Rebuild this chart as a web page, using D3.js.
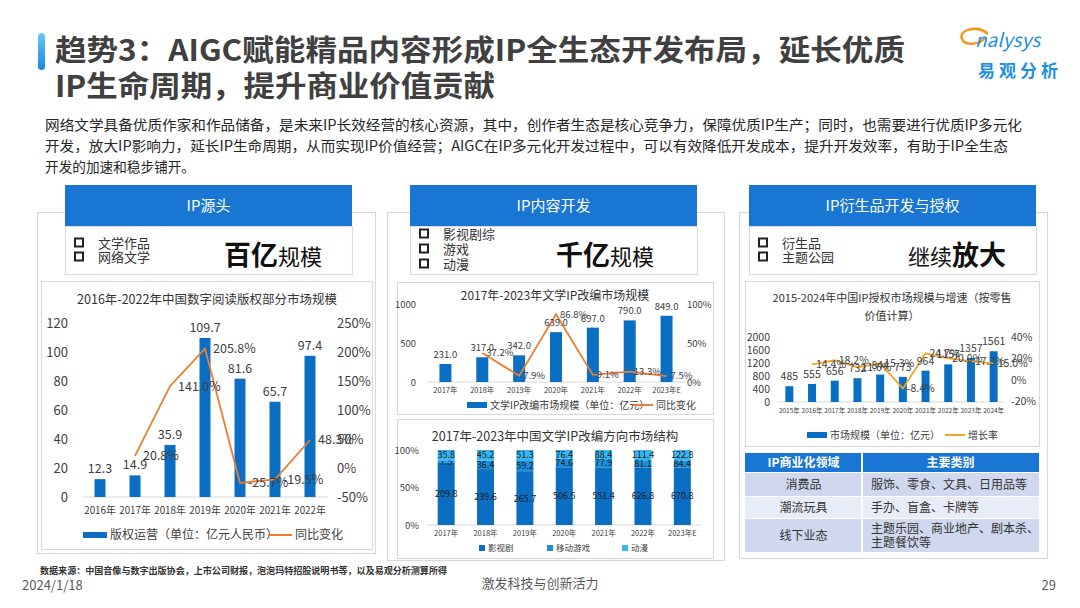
<!DOCTYPE html>
<html>
<head>
<meta charset="utf-8">
<script src="https://cdn.jsdelivr.net/npm/d3@7"></script>
<style>
  body { margin: 0; background: #fff; }
  svg { display: block; font-family: "Noto Sans CJK SC", "Noto Sans", sans-serif; }
</style>
</head>
<body>
<div id="chart"></div>
<script>
// ---- data ----
var readYears = ["2016年", "2017年", "2018年", "2019年", "2020年", "2021年", "2022年"];
var readValues = [12.3, 14.9, 35.9, 109.7, 81.6, 65.7, 97.4];
var readGrowth = [null, 20.8, 141.0, 205.8, -25.7, -19.5, 48.3];
var readLeftTicks = [0, 20, 40, 60, 80, 100, 120];
var readRightTicks = [-50, 0, 50, 100, 150, 200, 250];

var adaptYears = ["2017年", "2018年", "2019年", "2020年", "2021年", "2022年", "2023年E"];
var adaptValues = [231.0, 317.0, 342.0, 639.0, 697.0, 790.0, 849.0];
var adaptGrowth = [null, 37.2, 7.9, 86.8, 9.1, 13.3, 7.5];
var adaptLeftTicks = [0, 500, 1000];
var adaptRightTicks = [0, 50, 100];

var structYears = ["2017年", "2018年", "2019年", "2020年", "2021年", "2022年", "2023年E"];
var structFilm = [209.8, 239.6, 265.7, 506.5, 551.4, 626.8, 670.8];
var structGame = [7.5, 36.4, 59.2, 74.6, 77.9, 81.1, 84.4];
var structAnime = [35.8, 45.2, 51.3, 76.4, 88.4, 111.4, 122.8];
var structKeys = ["影视剧", "移动游戏", "动漫"];
var structTicks = [0, 0.5, 1];

var licYears = ["2015年", "2016年", "2017年", "2018年", "2019年", "2020年", "2021年", "2022年", "2023年", "2024年"];
var licValues = [485, 555, 656, 732, 844, 773, 964, 1157, 1357, 1561];
var licGrowth = [null, 14.4, 18.2, 11.6, 15.3, -8.4, 24.7, 20.0, 17.3, 15.0];
var licLeftTicks = [0, 400, 800, 1200, 1600, 2000];
var licRightTicks = [-20, 0, 20, 40];

var tableHead = ["IP商业化领域", "主要类别"];
var tableRows = [
  ["消费品", ["服饰、零食、文具、日用品等"]],
  ["潮流玩具", ["手办、盲盒、卡牌等"]],
  ["线下业态", ["主题乐园、商业地产、剧本杀、", "主题餐饮等"]]
];

var W = 1080, H = 608;
var BLUE = "#0a6fc2", ORANGE = "#ed7d31", TXT = "#404040";

var svg = d3.select("#chart").append("svg").attr("width", W).attr("height", H);

// ---- title ----
var grad = svg.append("defs").append("linearGradient").attr("id", "acc")
  .attr("x1", 0).attr("y1", 0).attr("x2", 0).attr("y2", 1);
grad.append("stop").attr("offset", 0).attr("stop-color", "#6cc8f2");
grad.append("stop").attr("offset", 1).attr("stop-color", "#1688dc");
svg.append("rect").attr("x", 38).attr("y", 33).attr("width", 7).attr("height", 37).attr("rx", 3.5).attr("fill", "url(#acc)");

svg.append("text").attr("x", 55).attr("y", 61).attr("font-size", 29).attr("font-weight", "bold").attr("fill", "#404040")
  .attr("textLength", 850).attr("lengthAdjust", "spacingAndGlyphs")
  .text("趋势3：AIGC赋能精品内容形成IP全生态开发布局，延长优质");
svg.append("text").attr("x", 55).attr("y", 97).attr("font-size", 29).attr("font-weight", "bold").attr("fill", "#404040")
  .attr("textLength", 440).attr("lengthAdjust", "spacingAndGlyphs")
  .text("IP生命周期，提升商业价值贡献");

// logo
svg.append("path").attr("d", "M988,34 C978,25 958,29 962,39 C965,46 979,45 985,38")
  .attr("fill", "none").attr("stroke", "#f39a1c").attr("stroke-width", 2.5);
svg.append("text").attr("x", 975).attr("y", 47).attr("font-size", 19).attr("font-style", "italic").attr("fill", "#1e90e0")
  .text("nalysys");
svg.append("text").attr("x", 978).attr("y", 77).attr("font-size", 17).attr("font-weight", "bold").attr("fill", "#1e90e0")
  .attr("textLength", 80).text("易观分析");

// ---- body text ----
var body = [
  ["网络文学具备优质作家和作品储备，是未来IP长效经营的核心资源，其中，创作者生态是核心竞争力，保障优质IP生产；同时，也需要进行优质IP多元化", 977],
  ["开发，放大IP影响力，延长IP生命周期，从而实现IP价值经营；AIGC在IP多元化开发过程中，可以有效降低开发成本，提升开发效率，有助于IP全生态", 963],
  ["开发的加速和稳步铺开。", 150]
];
body.forEach(function (b, i) {
  svg.append("text").attr("x", 45).attr("y", 130 + i * 21).attr("font-size", 14).attr("fill", "#262626")
    .attr("textLength", b[1]).attr("lengthAdjust", "spacingAndGlyphs").text(b[0]);
});

// ---- panels ----
function box(x, y, w, h, stroke) {
  svg.append("rect").attr("x", x + 0.5).attr("y", y + 0.5).attr("width", w).attr("height", h)
    .attr("fill", "#fff").attr("stroke", stroke || "#d9d9d9").attr("stroke-width", 1.2);
}
box(37, 212, 338, 341);
box(387, 212, 337, 348);
box(739, 212, 308, 346);

function header(x, label, bullets, bulletY, big) {
  box(x, 226, 287, 48, "#dcdcdc");
  svg.append("rect").attr("x", x).attr("y", 185).attr("width", 287).attr("height", 41).attr("fill", "#1976d2");
  svg.append("text").attr("x", x + 143.5).attr("y", 211).attr("text-anchor", "middle").attr("font-size", 15)
    .attr("fill", "#fff").text(label);
  bullets.forEach(function (b, i) {
    var yy = bulletY[i];
    svg.append("rect").attr("x", x + 10).attr("y", yy - 4.5).attr("width", 8).attr("height", 8)
      .attr("fill", "none").attr("stroke", "#222").attr("stroke-width", 2);
    svg.append("text").attr("x", x + 33).attr("y", yy + 4.5).attr("font-size", 13).attr("fill", "#333").text(b);
  });
  var t = svg.append("text").attr("x", big.x).attr("y", 265).attr("fill", "#111");
  big.parts.forEach(function (p) {
    t.append("tspan").attr("font-size", p[1] ? 27 : 22).attr("font-weight", p[1] ? "bold" : "normal").text(p[0]);
  });
}
header(65, "IP源头", ["文学作品", "网络文学"], [243, 257], { x: 224, parts: [["百亿", true], ["规模", false]] });
header(410, "IP内容开发", ["影视剧综", "游戏", "动漫"], [234, 249, 264], { x: 556, parts: [["千亿", true], ["规模", false]] });
header(749, "IP衍生品开发与授权", ["衍生品", "主题公园"], [243, 257], { x: 908, parts: [["继续", false], ["放大", true]] });

box(41, 281, 331, 268);
box(397, 282, 316, 132);
box(397, 419, 316, 139);
box(745, 281, 294, 165);

// ---- combo chart helper ----
function combo(o) {
  var g = svg.append("g");
  var x = d3.scaleBand().domain(o.cats).range(o.xr);
  var yl = d3.scaleLinear().domain(o.ld).range(o.yr);
  var yp = d3.scaleLinear().domain(o.pd).range(o.pr || o.yr);
  var cx = function (i) { return x(o.cats[i]) + x.bandwidth() / 2; };

  // baseline
  g.append("line").attr("x1", o.xr[0]).attr("x2", o.xr[1]).attr("y1", yl(0)).attr("y2", yl(0))
    .attr("stroke", "#d9d9d9").attr("stroke-width", 1);

  var ax = g.append("g").attr("transform", "translate(" + o.lx + ",0)")
    .call(d3.axisLeft(yl).tickValues(o.lt).tickSize(0).tickPadding(0).tickFormat(d3.format("d")));
  var ar = g.append("g").attr("transform", "translate(" + o.rx + ",0)")
    .call(d3.axisRight(yp).tickValues(o.rt).tickSize(0).tickPadding(0).tickFormat(function (d) { return d + "%"; }));
  var ab = g.append("g").attr("transform", "translate(0," + yl(0) + ")")
    .call(d3.axisBottom(x).tickSize(0).tickPadding(o.xpad));
  [ax, ar].forEach(function (a) {
    a.select(".domain").remove();
    a.selectAll("text").attr("font-size", o.fs).attr("fill", TXT).attr("font-family", "Noto Sans CJK SC");
  });
  ab.select(".domain").remove();
  ab.selectAll("text").attr("font-size", o.xfs).attr("fill", TXT).attr("font-family", "Noto Sans CJK SC");

  g.selectAll(".bar").data(o.values).join("rect").attr("class", "bar")
    .attr("x", function (d, i) { return cx(i) - o.bw / 2; })
    .attr("y", function (d) { return yl(d); })
    .attr("width", o.bw)
    .attr("height", function (d) { return yl(0) - yl(d); })
    .attr("fill", BLUE);

  var line = d3.line().defined(function (d) { return d != null; })
    .x(function (d, i) { return cx(i); }).y(function (d) { return yp(d); });
  g.append("path").datum(o.growth).attr("d", line).attr("fill", "none")
    .attr("stroke", o.lc).attr("stroke-width", o.lw);

  g.selectAll(".vl").data(o.values).join("text").attr("class", "vl")
    .attr("x", function (d, i) { return cx(i); })
    .attr("y", function (d) { return yl(d) - o.vgap; })
    .attr("text-anchor", "middle").attr("font-size", o.vfs).attr("fill", TXT)
    .text(function (d) { return o.vfmt(d); });

  g.selectAll(".gl").data(o.growth.filter(function (d) { return d != null; })).join("text").attr("class", "gl")
    .attr("x", function (d, i) { return cx(i + 1) + o.goff; })
    .attr("y", function (d) { return yp(d); })
    .attr("dy", "0.35em").attr("font-size", o.vfs).attr("fill", TXT)
    .text(function (d) { return d.toFixed(1) + "%"; });

  // legend
  g.append("rect").attr("x", o.leg[0]).attr("y", o.leg[1] - 3).attr("width", o.leg[2]).attr("height", 6).attr("fill", BLUE);
  g.append("text").attr("x", o.leg[0] + o.leg[2] + 3).attr("y", o.leg[1]).attr("dy", "0.35em")
    .attr("font-size", o.lfs).attr("fill", TXT).text(o.legText[0]);
  g.append("line").attr("x1", o.leg[3]).attr("x2", o.leg[3] + o.leg[2]).attr("y1", o.leg[1]).attr("y2", o.leg[1])
    .attr("stroke", o.lc).attr("stroke-width", 2);
  g.append("text").attr("x", o.leg[3] + o.leg[2] + 3).attr("y", o.leg[1]).attr("dy", "0.35em")
    .attr("font-size", o.lfs).attr("fill", TXT).text(o.legText[1]);
}

function title(x, y, size, txt) {
  svg.append("text").attr("x", x).attr("y", y).attr("dy", "0.35em").attr("text-anchor", "middle")
    .attr("font-size", size).attr("fill", "#333").text(txt);
}

// left chart
title(207, 300, 12.5, "2016年-2022年中国数字阅读版权部分市场规模");
combo({
  cats: readYears, values: readValues, growth: readGrowth,
  xr: [82.5, 327.5], ld: [0, 120], yr: [497, 323], pd: [-50, 250],
  lt: readLeftTicks, rt: readRightTicks, lx: 68, rx: 337, fs: 13, xfs: 9.8, xpad: 10,
  bw: 11, lc: ORANGE, lw: 1.8, vgap: 6, vfs: 12.5, goff: 8,
  vfmt: function (d) { return d.toFixed(1); },
  leg: [83, 535, 24, 268], lfs: 12, legText: ["版权运营（单位：亿元人民币）", "同比变化"]
});

// middle top chart
title(555, 296, 12, "2017年-2023年文学IP改编市场规模");
combo({
  cats: adaptYears, values: adaptValues, growth: adaptGrowth,
  xr: [427, 685], ld: [0, 1000], yr: [382, 304], pd: [0, 100],
  lt: adaptLeftTicks, rt: adaptRightTicks, lx: 416, rx: 687, fs: 9.5, xfs: 7.5, xpad: 6,
  bw: 12, lc: ORANGE, lw: 1.8, vgap: 6, vfs: 9.5, goff: 4,
  vfmt: function (d) { return d.toFixed(1); },
  leg: [467, 405, 20, 633], lfs: 10, legText: ["文学IP改编市场规模（单位：亿元）", "同比变化"]
});

// right chart
title(892, 298, 11, "2015-2024年中国IP授权市场规模与增速（按零售");
title(892, 316, 11, "价值计算）");
combo({
  cats: licYears, values: licValues, growth: licGrowth,
  xr: [778, 1005], ld: [0, 2000], yr: [402, 337], pd: [-20, 40], pr: [401, 337],
  lt: licLeftTicks, rt: licRightTicks, lx: 770, rx: 1011, fs: 10.5, xfs: 6.5, xpad: 6,
  bw: 8, lc: "#f5a524", lw: 1.8, vgap: 6, vfs: 10.5, goff: 4,
  vfmt: function (d) { return d; },
  leg: [807, 435, 20, 945], lfs: 10, legText: ["市场规模（单位：亿元）", "增长率"]
});

// middle bottom stacked chart
(function () {
  title(555, 437, 12.5, "2017年-2023年中国文学IP改编方向市场结构");
  var g = svg.append("g");
  var rows = structYears.map(function (y, i) {
    return { year: y, "影视剧": structFilm[i], "移动游戏": structGame[i], "动漫": structAnime[i] };
  });
  var stack = d3.stack().keys(structKeys).offset(d3.stackOffsetExpand)(rows);
  var x = d3.scaleBand().domain(structYears).range([426.5, 702]);
  var y = d3.scaleLinear().domain([0, 1]).range([525, 450]);
  var col = d3.scaleOrdinal().domain(structKeys).range(["#0a6fc2", "#1b8fdc", "#35b6f0"]);
  var bw = 17;

  g.append("line").attr("x1", 426.5).attr("x2", 702).attr("y1", 525).attr("y2", 525).attr("stroke", "#d9d9d9");
  var ay = g.append("g").attr("transform", "translate(419,0)")
    .call(d3.axisLeft(y).tickValues(structTicks).tickSize(0).tickPadding(0).tickFormat(d3.format(".0%")));
  var axb = g.append("g").attr("transform", "translate(0,525)").call(d3.axisBottom(x).tickSize(0).tickPadding(6));
  [ay, axb].forEach(function (a) {
    a.select(".domain").remove();
    a.selectAll("text").attr("fill", TXT).attr("font-family", "Noto Sans CJK SC");
  });
  ay.selectAll("text").attr("font-size", 9.5);
  axb.selectAll("text").attr("font-size", 7.5);

  var layer = g.selectAll(".layer").data(stack).join("g").attr("class", "layer").attr("fill", function (d) { return col(d.key); });
  layer.selectAll("rect").data(function (d) { return d; }).join("rect")
    .attr("x", function (d) { return x(d.data.year) + x.bandwidth() / 2 - bw / 2; })
    .attr("y", function (d) { return y(d[1]); })
    .attr("width", bw)
    .attr("height", function (d) { return y(d[0]) - y(d[1]); });
  layer.selectAll("text").data(function (d) { return d.map(function (v) { return { v: v, key: d.key }; }); }).join("text")
    .attr("x", function (d) { return x(d.v.data.year) + x.bandwidth() / 2; })
    .attr("y", function (d) { return (y(d.v[0]) + y(d.v[1])) / 2; })
    .attr("dy", "0.35em").attr("text-anchor", "middle").attr("font-size", 9).attr("fill", "#1a1a1a")
    .text(function (d) { return d.v.data[d.key].toFixed(1); });

  var lx = [482, 550, 625];
  structKeys.forEach(function (k, i) {
    g.append("rect").attr("x", lx[i] - 3).attr("y", 545).attr("width", 6).attr("height", 6).attr("fill", col(k));
    g.append("text").attr("x", lx[i] + 6).attr("y", 548).attr("dy", "0.35em").attr("font-size", 8.5).attr("fill", TXT).text(k);
  });
})();

// ---- table ----
(function () {
  var tx = 745, cw = [117, 177], rh = [20, 24, 22, 34], ty = 453;
  var fills = ["#1976d2", "#cfd8ee", "#e8ecf6", "#cfd8ee"];
  var yy = ty;
  [tableHead].concat(tableRows).forEach(function (r, i) {
    var h = rh[i];
    svg.append("rect").attr("x", tx).attr("y", yy).attr("width", cw[0] - 1).attr("height", h - 1).attr("fill", fills[i]);
    svg.append("rect").attr("x", tx + cw[0] + 1).attr("y", yy).attr("width", cw[1] - 1).attr("height", h - 1).attr("fill", fills[i]);
    var head = i === 0;
    svg.append("text").attr("x", tx + cw[0] / 2).attr("y", yy + h / 2).attr("dy", "0.35em").attr("text-anchor", "middle")
      .attr("font-size", 12).attr("font-weight", head ? "bold" : "normal").attr("fill", head ? "#fff" : "#333").text(r[0]);
    if (head) {
      svg.append("text").attr("x", tx + cw[0] + cw[1] / 2).attr("y", yy + h / 2).attr("dy", "0.35em").attr("text-anchor", "middle")
        .attr("font-size", 12).attr("font-weight", "bold").attr("fill", "#fff").text(r[1]);
    } else {
      var n = r[1].length;
      r[1].forEach(function (s, k) {
        svg.append("text").attr("x", tx + cw[0] + 9).attr("y", yy + h / 2 + (k - (n - 1) / 2) * 14).attr("dy", "0.35em")
          .attr("font-size", 12).attr("fill", "#333").text(s);
      });
    }
    yy += h;
  });
})();

// ---- footer ----
svg.append("text").attr("x", 40).attr("y", 571).attr("dy", "0.35em").attr("font-size", 9.5).attr("font-weight", "bold")
  .attr("fill", "#333").attr("textLength", 407).attr("lengthAdjust", "spacingAndGlyphs")
  .text("数据来源：中国音像与数字出版协会，上市公司财报，泡泡玛特招股说明书等，以及易观分析测算所得");
svg.append("text").attr("x", 22).attr("y", 585).attr("dy", "0.35em").attr("font-size", 13).attr("fill", "#595959").text("2024/1/18");
svg.append("text").attr("x", 540).attr("y", 583).attr("dy", "0.35em").attr("text-anchor", "middle").attr("font-size", 13).attr("fill", "#595959").text("激发科技与创新活力");
svg.append("text").attr("x", 1056).attr("y", 585).attr("dy", "0.35em").attr("text-anchor", "end").attr("font-size", 13).attr("fill", "#595959").text("29");
</script>
</body>
</html>
